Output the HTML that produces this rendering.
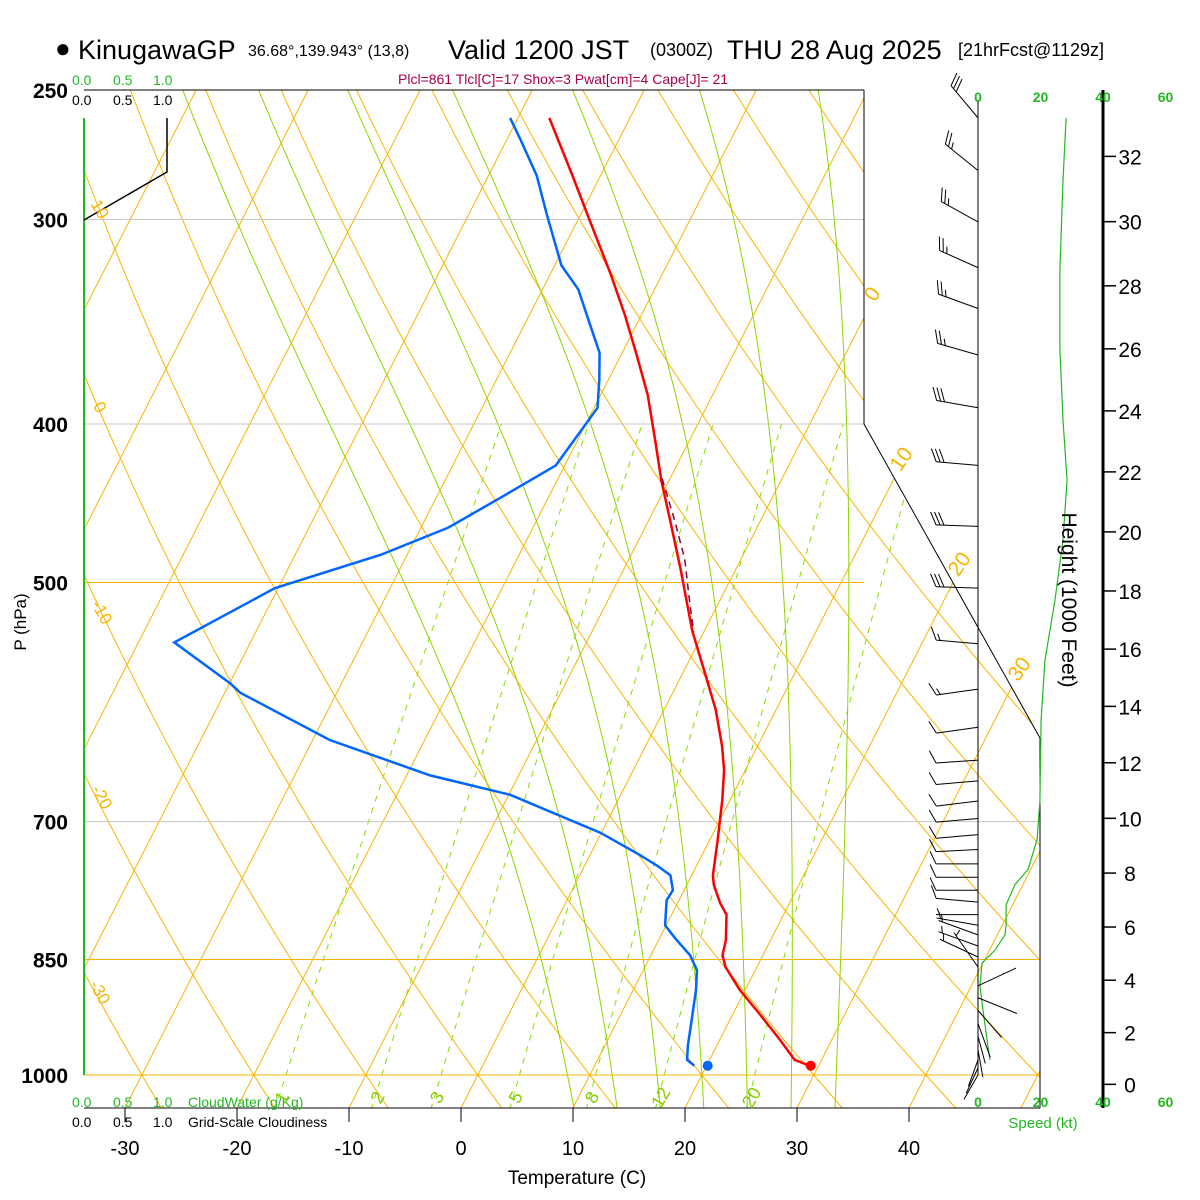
<!DOCTYPE html>
<html><head><meta charset="utf-8"><style>
html,body{margin:0;padding:0;background:#fff;}
svg{display:block;font-family:"Liberation Sans",sans-serif;}
</style></head><body>
<svg id="c" width="1200" height="1200" viewBox="0 0 1200 1200" xmlns="http://www.w3.org/2000/svg">
<defs><clipPath id="clip"><polygon points="84,90 864,90 864,424 1040,738 1040,1108 84,1108"/></clipPath></defs>
<g id="bg" clip-path="url(#clip)"></g>
<g id="fg"></g>
<g id="tx">
<text x="55" y="57" font-size="26">●</text>
<text x="78" y="59" font-size="27">KinugawaGP</text>
<text x="248" y="56" font-size="16">36.68°,139.943° (13,8)</text>
<text x="448" y="59" font-size="27">Valid 1200 JST</text>
<text x="650" y="56" font-size="18">(0300Z)</text>
<text x="727" y="59" font-size="27">THU 28 Aug 2025</text>
<text x="958" y="56" font-size="18">[21hrFcst@1129z]</text>
<text x="398" y="84" font-size="14" fill="#a8004c">Plcl=861 Tlcl[C]=17 Shox=3 Pwat[cm]=4 Cape[J]= 21</text>
<g font-size="14" fill="#22b822"><text x="72" y="85">0.0</text><text x="113" y="85">0.5</text><text x="153" y="85">1.0</text></g>
<g font-size="14" fill="#000"><text x="72" y="105">0.0</text><text x="113" y="105">0.5</text><text x="153" y="105">1.0</text></g>
<g font-size="14" fill="#22b822"><text x="72" y="1107">0.0</text><text x="113" y="1107">0.5</text><text x="153" y="1107">1.0</text><text x="188" y="1107">CloudWater (g/Kg)</text></g>
<g font-size="14" fill="#000"><text x="72" y="1127">0.0</text><text x="113" y="1127">0.5</text><text x="153" y="1127">1.0</text><text x="188" y="1127">Grid-Scale Cloudiness</text></g>
<text x="577" y="1184" font-size="19" text-anchor="middle">Temperature (C)</text>
<text transform="translate(26,622) rotate(-90)" font-size="17" text-anchor="middle">P (hPa)</text>
<text transform="translate(1062,600) rotate(90)" font-size="21" text-anchor="middle">Height (1000 Feet)</text>
<text x="1043" y="1128" font-size="15" fill="#22b822" text-anchor="middle">Speed (kt)</text>
</g>
</svg>
<script>
// ---- data ----
const pressureLabels=[250,300,400,500,700,850,1000];
const tempTicks=[-30,-20,-10,0,10,20,30,40];
const tempP=[260,282,301,324,343,363,384,409,433,458,491,535,566,598,629,651,679,718,755,765,785,798,827,845,859,887,919,952,979,987];
const tempT=[-37.2,-32.5,-28.8,-24.6,-21.5,-18.6,-15.8,-13.1,-10.7,-8.1,-4.9,-1.1,1.8,4.6,6.8,8.1,9.3,10.7,11.9,12.4,13.8,14.9,16.0,16.4,17.2,19.5,22.5,25.4,27.6,29.2];
const dewP=[260,268,282,298,320,331,343,362,376,391,406,424,444,463,481,504,544,576,584,624,656,674,711,734,745,755,771,782,810,825,845,863,887,926,959,979,987];
const dewT=[-40.7,-38.8,-35.7,-33.0,-29.4,-26.8,-24.9,-22.0,-20.8,-19.7,-20.2,-20.8,-24.3,-27.6,-32.4,-40.3,-46.8,-40.0,-38.6,-28.5,-17.9,-9.9,-0.1,4.5,6.5,8.1,9.0,8.9,9.9,11.4,13.5,14.8,15.6,16.6,17.4,18.0,18.9];
const parcelP=[432,458,484,513,536];
const parcelT=[-10.7,-7.7,-5.0,-2.7,-0.9];
const sfcT=29.3, sfcTd=20.1, sfcP=987;
const windP=[260,280,301,321,340,363,391,424,462,504,545,581,613,642,661,680,697,713,728,743,757,771,784,798,810,821,834,847,859,882,897,913,930,947,965,979,990,1000];
const windDir=[320,309,299,294,290,286,280,275,272,272,275,262,262,266,265,263,265,265,267,270,270,270,275,270,280,290,290,295,325,65,112,139,160,165,170,200,205,210];
const windSpd=[30,25,25,25,25,25,30,30,30,30,15,15,10,10,10,10,10,10,10,10,10,10,10,5,5,5,5,5,5,0,0,0,0,0,0,0,0,0];
const spdP=[260,284,322,360,398,433,471,513,558,607,680,718,749,765,787,810,821,839,854,882,913,952,979];
const spdV=[28.2,27.2,26.2,26.2,27.2,28.5,27.2,24.6,21.4,20.2,19.8,18.9,16,11.8,9,9,8.6,5.4,1.3,0.6,1.6,2.9,3.8];
const heightTicks=[0,2,4,6,8,10,12,14,16,18,20,22,24,26,28,30,32];
const speedTicks=[0,20,40,60];
const mixRatios=[1,2,3,5,8,12,20];
const moistThetaW=[8,12,16,20,24,28,32];
const dryTheta=[-60,-50,-40,-30,-20,-10,0,10,20,30,40,50,60,70,80,90,100,110,120,130,140,150,160];
const isoT=[-130,-120,-110,-100,-90,-80,-70,-60,-50,-40,-30,-20,-10,0,10,20,30,40,50];
// ---- axes ----
const K=Math.log(4)/985;
function py(p){return 1075-Math.log(1000/p)/K;}
function tx(T,y){return 461+11.2*T+0.51*(1108-y);}
function sx(v){return 978+v*3.125;}
function zy(kft){const p=1013.25*Math.pow(1-6.8756e-6*kft*1000,5.2559);return py(p);}
const NS='http://www.w3.org/2000/svg';
const bg=document.getElementById('bg'),fg=document.getElementById('fg'),tg=document.getElementById('tx');
function mk(tag,attrs,parent){const e=document.createElementNS(NS,tag);for(const k in attrs)e.setAttribute(k,attrs[k]);parent.appendChild(e);return e;}
function ptsTP(Ps,Ts){return Ps.map((p,i)=>{const y=py(p);return tx(Ts[i],y).toFixed(1)+','+y.toFixed(1);}).join(' ');}
// isotherms
isoT.forEach(T=>{const y1=1108,y2=90;const l=mk('line',{x1:tx(T,y1),y1:y1,x2:tx(T,y2),y2:y2,stroke:'#f8b400','stroke-width':1},bg);

});
// dry adiabats
dryTheta.forEach(th=>{const a=[];for(let p=1050;p>=240;p-=10){const T=(th+273.15)*Math.pow(p/1000,0.2857)-273.15;const y=py(p);a.push(tx(T,y).toFixed(1)+','+y.toFixed(1));}
const l=mk('polyline',{points:a.join(' '),fill:'none',stroke:'#f8b400','stroke-width':1},bg);

});
// moist adiabats
function es(T){return 6.112*Math.exp(17.67*T/(T+243.5));}
moistThetaW.forEach(tw=>{let T=tw+273.15;let p=1000;const a=[];
function step(dp){const Tc=T-273.15;const rs=0.622*es(Tc)/(p-es(Tc));const Lv=2.501e6,Rd=287,Cp=1005;
const dTdp=(1/p)*(Rd*T+Lv*rs)/(Cp+Lv*Lv*rs*0.622/(Rd*T*T));T+=dTdp*dp;p+=dp;}
const low=[];let Ts=T,ps=p;while(p<1050){step(5);low.push([p,T]);}
T=Ts;p=ps;const up=[[p,T]];while(p>245){step(-5);up.push([p,T]);}
low.reverse().concat(up).forEach(([pp,TT])=>{const y=py(pp);a.push(tx(TT-273.15,y).toFixed(1)+','+y.toFixed(1));});
const l=mk('polyline',{points:a.join(' '),fill:'none',stroke:'#8fd400','stroke-width':1},bg);

});
// mixing ratio
mixRatios.forEach(w=>{const a=[];for(let p=1050;p>=400;p-=10){const e=w*p/(622+w);const L=Math.log(e/6.112);const T=243.5*L/(17.67-L);const y=py(p);a.push(tx(T,y).toFixed(1)+','+y.toFixed(1));}
const l=mk('polyline',{points:a.join(' '),fill:'none',stroke:'#88dd00','stroke-width':1,'stroke-dasharray':'6,6'},bg);


const p=1022,e=w*p/(622+w),L=Math.log(e/6.112),T=243.5*L/(17.67-L),y=py(p)+12;
const t=mk('text',{transform:`translate(${tx(T,y)+12},${y-2}) rotate(-60)`,'font-size':18,fill:'#88cc00','text-anchor':'middle'},tg);t.textContent=w;

});
// pressure lines
pressureLabels.forEach(p=>{const y=py(p);const orange=(p==500||p==1000||p==850);
if(p!=250){const l=mk('line',{x1:84,y1:y,x2:(p>=700?1040:864),y2:y,stroke:orange?'#f8b400':'#c8c8c8','stroke-width':1},bg);

}
const t=mk('text',{x:68,y:y+8,'font-size':21,'font-weight':'bold','text-anchor':'end'},tg);t.textContent=p;

});
// frame
[[84,90,864,90],[864,90,864,424],[864,424,1040,738],[1040,738,1040,1108],[84,1108,1040,1108],[978,100,978,1075],[1103,90,1103,1108]].forEach((s,i)=>{const l=mk('line',{x1:s[0],y1:s[1],x2:s[2],y2:s[3],stroke:'#000','stroke-width':i==6?3:1},fg);

});
mk('line',{x1:84,y1:118,x2:84,y2:1075,stroke:'#22b822','stroke-width':2},fg);
mk('polyline',{points:'84,220 167,172 167,118',fill:'none',stroke:'#000','stroke-width':1.5},fg);
// temp ticks
tempTicks.forEach(T=>{const x=461+11.2*T;mk('line',{x1:x,y1:1108,x2:x,y2:1122,stroke:'#000'},fg);
const t=mk('text',{x:x,y:1155,'font-size':20,'text-anchor':'middle'},tg);t.textContent=T;

});
// isotherm labels right, dry adiabat labels left
[[0,878,298],[10,907,463],[20,965,568],[30,1025,673]].forEach(d=>{const t=mk('text',{transform:`translate(${d[1]},${d[2]}) rotate(-55)`,'font-size':21,fill:'#f8b400','text-anchor':'middle'},tg);t.textContent=d[0];

});
[[10,95,212],[0,95,410],[-10,97,615],[-20,97,800],[-30,95,995]].forEach(d=>{const t=mk('text',{transform:`translate(${d[1]},${d[2]}) rotate(60)`,'font-size':17,fill:'#f8b400','text-anchor':'middle'},tg);t.textContent=d[0];

});
// profiles
const tl=mk('polyline',{points:ptsTP(tempP,tempT),fill:'none',stroke:'#ff0000','stroke-width':2.5},fg);


const dl=mk('polyline',{points:ptsTP(dewP,dewT),fill:'none',stroke:'#0066ff','stroke-width':2.5},fg);


const pl=mk('polyline',{points:ptsTP(parcelP,parcelT),fill:'none',stroke:'#800040','stroke-width':1.5,'stroke-dasharray':'7,5'},fg);


let y0=py(sfcP);
const c1=mk('circle',{cx:tx(sfcT,y0),cy:y0,r:5,fill:'#ff0000'},fg);


const c2=mk('circle',{cx:tx(sfcTd,y0),cy:y0,r:5,fill:'#0066ff'},fg);


// wind speed profile
const sl=mk('polyline',{points:spdP.map((p,i)=>sx(spdV[i]).toFixed(1)+','+py(p).toFixed(1)).join(' '),fill:'none',stroke:'#22b822','stroke-width':1.2},fg);


speedTicks.forEach(v=>{[102,1107].forEach(yy=>{const t=mk('text',{x:sx(v),y:yy,'font-size':14,'font-weight':'bold',fill:'#22b822','text-anchor':'middle'},tg);t.textContent=v;

});});
heightTicks.forEach(h=>{const y=zy(h);mk('line',{x1:1103,y1:y,x2:1116,y2:y,stroke:'#000','stroke-width':1.5},fg);
const t=mk('text',{x:1130,y:y+8,'font-size':21,'text-anchor':'middle'},tg);t.textContent=h;

});
// wind barbs
windP.forEach((p,i)=>{const y=py(p);const d=windDir[i]*Math.PI/180;const s=windSpd[i];
const L=(i>=31)?(i>=33?28:36):42;
const ux=Math.sin(d),uy=-Math.cos(d);
const g=mk('g',{stroke:'#000','stroke-width':1,fill:'none'},fg);


const ex=978+ux*L,ey=y+uy*L;mk('line',{x1:978,y1:y,x2:ex,y2:ey},g);
const a=Math.atan2(uy,ux)+65*Math.PI/180;const fx=Math.cos(a),fy=Math.sin(a);
let n=Math.floor(s/10),half=(s%10)>=5,k=0;
for(let j=0;j<n;j++){const bx=ex-ux*k*4,by=ey-uy*k*4;mk('line',{x1:bx,y1:by,x2:bx+fx*14,y2:by+fy*14},g);k++;}
if(half){if(n==0)k=1;const bx=ex-ux*k*4,by=ey-uy*k*4;mk('line',{x1:bx,y1:by,x2:bx+fx*7,y2:by+fy*7},g);}
});
</script>
</body></html>
